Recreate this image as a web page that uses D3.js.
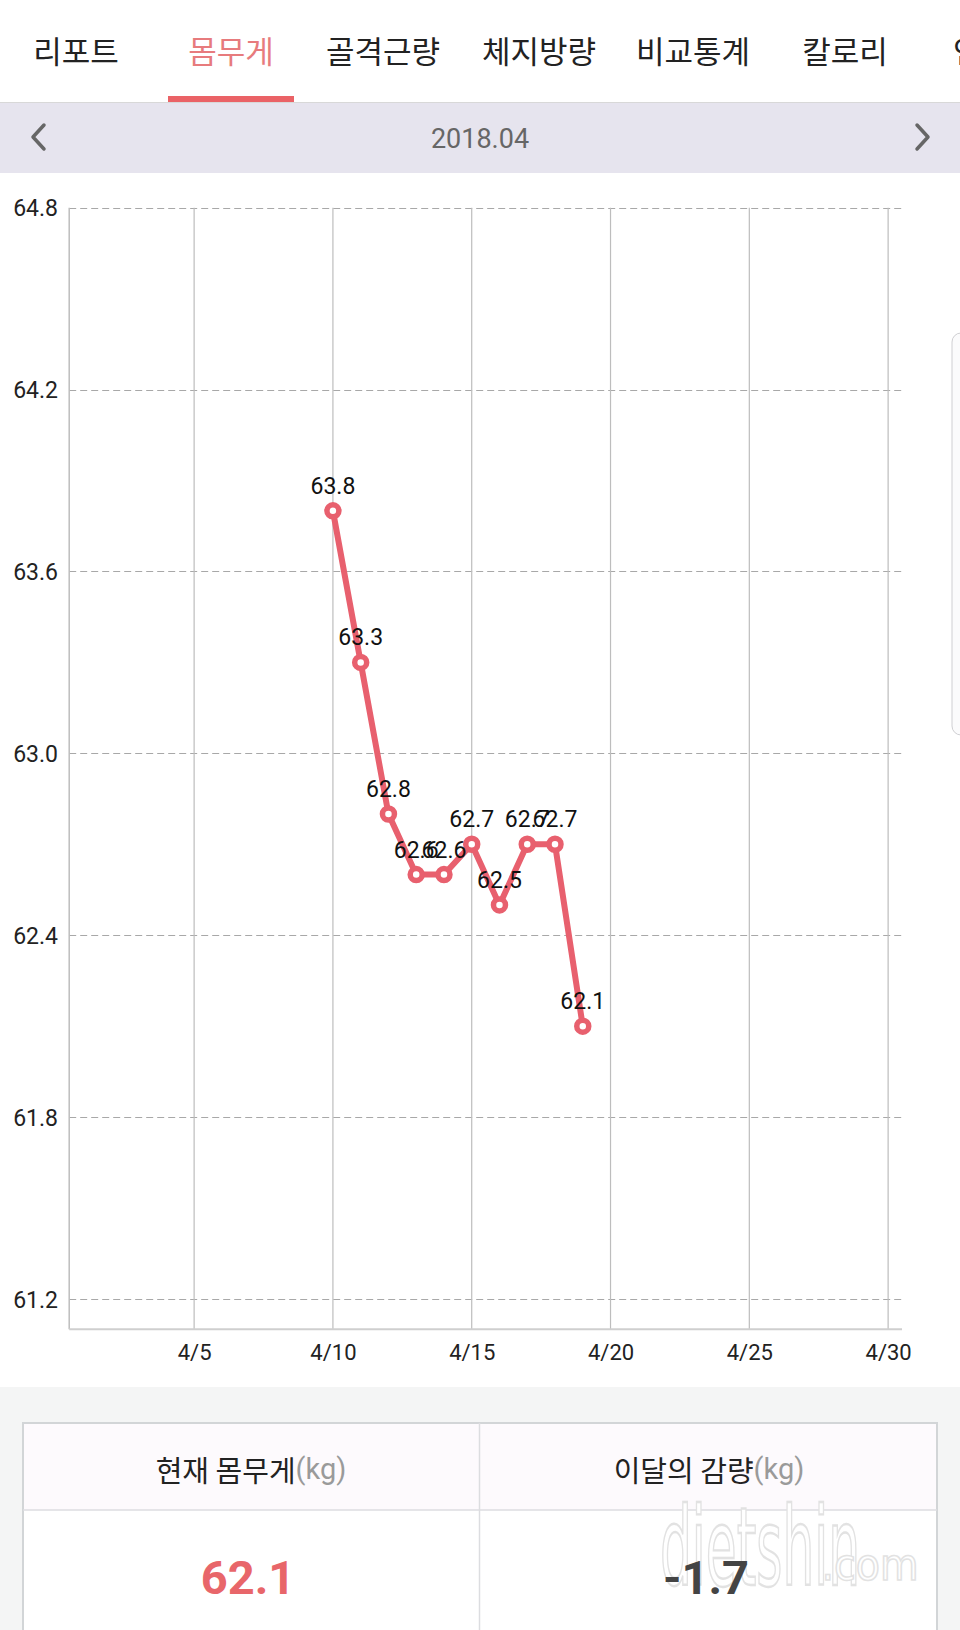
<!DOCTYPE html>
<html><head><meta charset="utf-8">
<script src="https://cdn.jsdelivr.net/npm/d3@7"></script>
<style>html,body{margin:0;padding:0;background:#fff;overflow:hidden}svg{display:block}</style>
</head><body>
<script>
// ---- data ----
const tabs = ["리포트","몸무게","골격근량","체지방량","비교통계","칼로리","인바디"];
const month = "2018.04";
const days = [10,11,12,13,14,15,16,17,18,19];
const weights = [63.8,63.3,62.8,62.6,62.6,62.7,62.5,62.7,62.7,62.1];
const yTicks = [61.2,61.8,62.4,63.0,63.6,64.2,64.8];
const xTicks = [5,10,15,20,25,30];
const xTickLabels = ["4/5","4/10","4/15","4/20","4/25","4/30"];
const summaryHeads = ["현재 몸무게","이달의 감량"];
const summaryUnit = "(kg)";
const summaryValues = ["62.1","-1.7"];

const W=960,H=1630;
const svg=d3.select("body").append("svg").attr("width",W).attr("height",H);
const kfont="'Noto Sans CJK KR','Noto Sans',sans-serif";
const nfont="Roboto,'Noto Sans',sans-serif";

// header
svg.append("rect").attr("x",0).attr("y",0).attr("width",W).attr("height",102).attr("fill","#fff");
const tabX=[76,231,383,539,693,845,953];
svg.selectAll("text.tab").data(tabs).join("text").attr("class","tab")
  .attr("x",(d,i)=>tabX[i]).attr("y",49).attr("text-anchor",(d,i)=>i===6?"start":"middle")
  .attr("dominant-baseline","central").attr("font-family",kfont).attr("font-size",31)
  .attr("fill",(d,i)=>i===1?"#e77b7d":"#222").text(d=>d);
svg.append("rect").attr("x",168).attr("y",96).attr("width",126).attr("height",6).attr("fill","#ea6266");
svg.append("line").attr("x1",0).attr("x2",W).attr("y1",102.5).attr("y2",102.5).attr("stroke","#d8d8d8");

// month bar
svg.append("rect").attr("x",0).attr("y",103).attr("width",W).attr("height",70).attr("fill","#e6e4ee");
svg.append("text").attr("x",480).attr("y",139).attr("text-anchor","middle").attr("dominant-baseline","central")
  .attr("font-family",nfont).attr("font-size",27).attr("fill","#666").text(month);
svg.append("path").attr("d","M44,125 L33,137 L44,149").attr("fill","none").attr("stroke","#666").attr("stroke-width",3.5).attr("stroke-linecap","round").attr("stroke-linejoin","round");
svg.append("path").attr("d","M917,125 L928,137 L917,149").attr("fill","none").attr("stroke","#666").attr("stroke-width",3.5).attr("stroke-linecap","round").attr("stroke-linejoin","round");

// side tab
svg.append("rect").attr("x",952).attr("y",333).attr("width",24).attr("height",402).attr("rx",9)
  .attr("fill","#fbfbfc").attr("stroke","#cfcfd2");

// chart
const L=69.2,R=902,T=207.7,B=1329.3;
const x=d3.scaleLinear().domain([0.5,30.5]).range([L,R]);
const y=d3.scaleLinear().domain([61.1,64.8]).range([B,T]);

svg.selectAll("line.hg").data(yTicks).join("line").attr("class","hg")
  .attr("x1",L).attr("x2",R).attr("y1",d=>Math.round(y(d))+0.5).attr("y2",d=>Math.round(y(d))+0.5)
  .attr("stroke","#a8a8a8").attr("stroke-dasharray","7,4");
svg.selectAll("line.vg").data(xTicks).join("line").attr("class","vg")
  .attr("x1",d=>x(d)).attr("x2",d=>x(d)).attr("y1",T).attr("y2",B)
  .attr("stroke","#bdbdbd").attr("stroke-width",1.2);
svg.append("line").attr("x1",L).attr("x2",L).attr("y1",T).attr("y2",B).attr("stroke","#bdbdbd").attr("stroke-width",1.5);
svg.append("line").attr("x1",L).attr("x2",R).attr("y1",B).attr("y2",B).attr("stroke","#cfcfcf").attr("stroke-width",2);

const yAxis=d3.axisLeft(y).tickValues(yTicks).tickFormat(d3.format(".1f")).tickSize(0).tickPadding(0);
const ya=svg.append("g").attr("transform",`translate(58,0)`).call(yAxis);
ya.select(".domain").remove();
ya.selectAll("text").attr("font-family",nfont).attr("font-size",23).attr("fill","#222").attr("dy","0.35em");

const xAxis=d3.axisBottom(x).tickValues(xTicks).tickFormat((d,i)=>xTickLabels[i]).tickSize(0).tickPadding(0);
const xa=svg.append("g").attr("transform",`translate(0,1352)`).call(xAxis);
xa.select(".domain").remove();
xa.selectAll("text").attr("font-family",nfont).attr("font-size",22).attr("fill","#222").attr("dy","0.35em");

const pts=days.map((d,i)=>({d,v:weights[i]}));
const lineColor="#e8606e";
svg.append("path").datum(pts).attr("d",d3.line().x(p=>x(p.d)).y(p=>y(p.v)))
  .attr("fill","none").attr("stroke",lineColor).attr("stroke-width",6).attr("stroke-linejoin","round");
svg.selectAll("circle.pt").data(pts).join("circle").attr("class","pt")
  .attr("cx",p=>x(p.d)).attr("cy",p=>y(p.v)).attr("r",6)
  .attr("fill","#fff").attr("stroke",lineColor).attr("stroke-width",5.5);
svg.selectAll("text.lbl").data(pts).join("text").attr("class","lbl")
  .attr("x",p=>x(p.d)).attr("y",p=>y(p.v)-17).attr("text-anchor","middle")
  .attr("font-family",nfont).attr("font-size",23).attr("fill","#111").text(p=>p.v.toFixed(1));

// summary area
svg.append("rect").attr("x",0).attr("y",1387).attr("width",W).attr("height",H-1387).attr("fill","#f4f5f5");
const tx=23,tw=914,ty=1423,th1=87;
svg.append("rect").attr("x",tx).attr("y",ty).attr("width",tw).attr("height",th1).attr("fill","#fdfafd");
svg.append("rect").attr("x",tx).attr("y",ty+th1).attr("width",tw).attr("height",H-ty-th1+5).attr("fill","#fff");
svg.append("rect").attr("x",tx).attr("y",ty).attr("width",tw).attr("height",H-ty+10).attr("fill","none").attr("stroke","#d2d5d7").attr("stroke-width",2);
svg.append("line").attr("x1",tx).attr("x2",tx+tw).attr("y1",ty+th1).attr("y2",ty+th1).attr("stroke","#dcdde0").attr("stroke-width",1.5);
svg.append("line").attr("x1",479.5).attr("x2",479.5).attr("y1",ty).attr("y2",H).attr("stroke","#dcdde0").attr("stroke-width",1.5);

// watermark
svg.append("text").attr("x",760).attr("y",1585).attr("text-anchor","middle")
  .attr("font-family","'Liberation Sans Narrow','DejaVu Sans Condensed',sans-serif").attr("font-size",90)
  .attr("transform","translate(760,1585) scale(0.62,1.2) translate(-760,-1585)")
  .attr("fill","#fff").attr("stroke","#e2e2e2").attr("stroke-width",2).text("dietshin");
svg.append("text").attr("x",870).attr("y",1580).attr("text-anchor","middle")
  .attr("font-family","'Liberation Sans Narrow','DejaVu Sans Condensed',sans-serif").attr("font-size",44)
  .attr("fill","#fff").attr("stroke","#e2e2e2").attr("stroke-width",1.5).text(".com");

const colC=[251,709];
summaryHeads.forEach((h,i)=>{
  const t=svg.append("text").attr("x",colC[i]).attr("y",1469).attr("text-anchor","middle").attr("dominant-baseline","central")
    .attr("font-family",kfont).attr("font-size",29).attr("fill","#222");
  t.append("tspan").text(h);
  t.append("tspan").attr("fill","#9a9a9a").attr("font-family",nfont).text(summaryUnit);
});
svg.selectAll("text.val").data(summaryValues).join("text").attr("class","val")
  .attr("x",(d,i)=>colC[i]-3).attr("y",1577).attr("text-anchor","middle").attr("dominant-baseline","central")
  .attr("font-family",nfont).attr("font-weight","bold").attr("font-size",47)
  .attr("fill",(d,i)=>i===0?"#e8666a":"#444").text(d=>d);
</script>
</body></html>
